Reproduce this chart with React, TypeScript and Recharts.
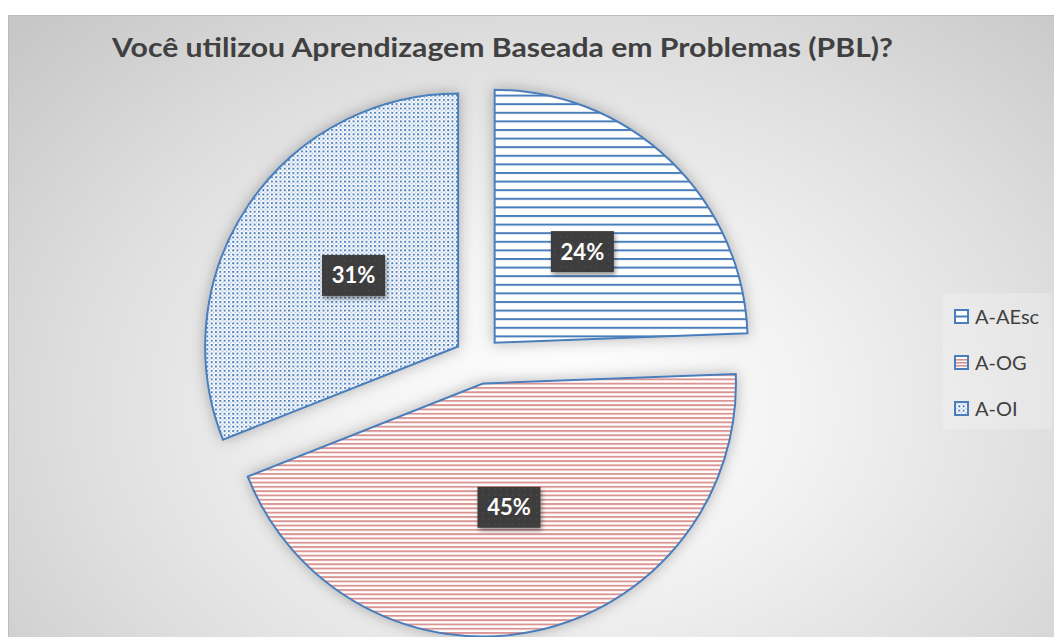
import { PieChart, Pie, Cell, Legend } from 'recharts';

const categories = ['A-AEsc', 'A-OG', 'A-OI'];
const shares = [24.4, 44.6, 31.0];
const fills = ['url(#hatchBlue)', 'url(#hatchRed)', 'url(#dotsBlue)'];
const title = 'Você utilizou Aprendizagem Baseada em Problemas (PBL)?';

const W = 1054;
const H = 637;
const CX = 478;
const CY = 360;
const R = 253;
const EXPLODE = 24;
const RAD = Math.PI / 180;
const OUTLINE = '#4a7ebb';
const FONT = 'Lato, "Open Sans", sans-serif';

const data = categories.map((name, i) => ({ name, value: shares[i] }));
const total = shares.reduce((a, b) => a + b, 0);

// mid angle of each slice (recharts convention), used to push the slice outwards
const midAngles = shares.map((v, i) => {
  const before = shares.slice(0, i).reduce((a, b) => a + b, 0);
  return 90 - ((before + v / 2) / total) * 360;
});

const renderLabel = (k: number) => (props: any) => {
  if (props.index !== k) return null;
  const x = props.cx + R * 0.5 * Math.cos(-props.midAngle * RAD);
  const y = props.cy + R * 0.5 * Math.sin(-props.midAngle * RAD);
  return (
    <g>
      <rect x={x - 31.5} y={y - 20.5} width={63} height={41} fill="url(#labelDots)" filter="url(#labelShadow)" />
      <text x={x} y={y + 8} textAnchor="middle" fill="#ffffff" fontFamily={FONT} fontWeight={700} fontSize={22}>
        {Math.round(props.percent * 100)}%
      </text>
    </g>
  );
};

const LegendIcon = ({ i }: { i: number }) => (
  <svg width={15} height={15} style={{ display: 'block' }}>
    <rect x={1} y={1} width={13} height={13} fill="#ffffff" stroke={OUTLINE} strokeWidth={2} />
    {i === 0 && <rect x={1} y={6.5} width={13} height={2} fill={OUTLINE} />}
    {i === 1 &&
      [4, 7, 10].map((yy) => <rect key={yy} x={2} y={yy} width={11} height={1.6} fill="#d98f8d" />)}
    {i === 2 && <rect x={2} y={2} width={11} height={11} fill="url(#dotsBlue)" />}
  </svg>
);

const renderLegend = () => (
  <div style={{ fontFamily: FONT, fontSize: 20, color: '#404040', paddingTop: 0 }}>
    {categories.map((name, i) => (
      <div key={name} style={{ display: 'flex', alignItems: 'center', height: 46, paddingLeft: 11 }}>
        <LegendIcon i={i} />
        <span style={{ marginLeft: 6 }}>{name}</span>
      </div>
    ))}
  </div>
);

export default function App() {
  return (
    <div style={{ position: 'absolute', left: 0, top: 0, width: W, height: H, overflow: 'hidden', background: '#ffffff' }}>
      <div
        style={{
          position: 'absolute',
          left: 8,
          top: 15,
          width: 1046,
          height: 640,
          borderTop: '1px solid #bcbcbc',
          borderLeft: '1px solid #bcbcbc',
          background:
            'radial-gradient(ellipse 760px 560px at 560px 390px, #ffffff 0%, #f3f3f3 30%, #dedede 65%, #c6c6c6 100%)',
        }}
      />
      <div style={{ position: 'absolute', left: 0, top: 0 }}>
        <PieChart width={W} height={H} margin={{ top: 0, right: 0, bottom: 0, left: 0 }}>
          <defs>
            <pattern id="hatchBlue" patternUnits="userSpaceOnUse" width={10} height={8.6}>
              <rect width={10} height={8.6} fill="#ffffff" />
              <rect y={0} width={10} height={2} fill={OUTLINE} />
            </pattern>
            <pattern id="hatchRed" patternUnits="userSpaceOnUse" width={10} height={4.3}>
              <rect width={10} height={4.3} fill="#ffffff" />
              <rect y={0} width={10} height={1.9} fill="#da9492" />
            </pattern>
            <pattern id="dotsBlue" patternUnits="userSpaceOnUse" width={4.3} height={4.3}>
              <rect width={4.3} height={4.3} fill="#ffffff" />
              <rect x={0} y={0} width={2} height={2} fill={OUTLINE} />
              <rect x={2.3} y={2.3} width={1.6} height={1.6} fill="#a9c0e0" />
            </pattern>
            <pattern id="labelDots" patternUnits="userSpaceOnUse" width={6} height={6}>
              <rect width={6} height={6} fill="#3d3d3d" />
              <rect x={2} y={2} width={1.5} height={1.5} fill="#4a4a4a" />
            </pattern>
            <filter id="sliceShadow" x="-20%" y="-20%" width="140%" height="140%">
              <feDropShadow dx={0} dy={0} stdDeviation={7} floodColor="#000000" floodOpacity={0.28} />
            </filter>
            <filter id="labelShadow" x="-30%" y="-30%" width="160%" height="170%">
              <feDropShadow dx={1.5} dy={3} stdDeviation={2} floodColor="#000000" floodOpacity={0.4} />
            </filter>
          </defs>
          {categories.map((name, k) => {
            const a = midAngles[k] * RAD;
            return (
              <Pie
                key={name}
                data={data}
                dataKey="value"
                nameKey="name"
                cx={CX + EXPLODE * Math.cos(a)}
                cy={CY - EXPLODE * Math.sin(a)}
                outerRadius={R}
                startAngle={90}
                endAngle={-270}
                stroke="none"
                label={renderLabel(k)}
                labelLine={false}
                legendType="none"
                isAnimationActive={false}
              >
                {data.map((d, i) => (
                  <Cell
                    key={d.name}
                    fill={i === k ? fills[i] : 'none'}
                    stroke={i === k ? OUTLINE : 'none'}
                    strokeWidth={2}
                    filter={i === k ? 'url(#sliceShadow)' : undefined}
                  />
                ))}
              </Pie>
            );
          })}
          <Legend
            layout="vertical"
            align="right"
            verticalAlign="middle"
            content={renderLegend}
            wrapperStyle={{
              position: 'absolute',
              left: 943,
              top: 293,
              width: 109,
              height: 136,
              background: 'rgba(255,255,255,0.22)',
            }}
          />
        </PieChart>
      </div>
      <svg width={W} height={90} style={{ position: 'absolute', left: 0, top: 0 }}>
        <text
          x={502.5}
          y={57}
          textAnchor="middle"
          fontFamily={FONT}
          fontWeight={700}
          fontSize={26}
          fill="#404040"
          textLength={781}
          lengthAdjust="spacingAndGlyphs"
        >
          {title}
        </text>
      </svg>
    </div>
  );
}
